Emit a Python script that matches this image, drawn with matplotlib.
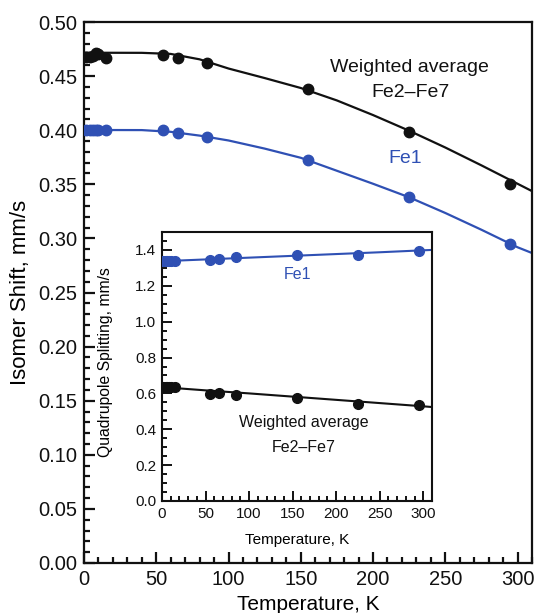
import matplotlib
matplotlib.use("Agg")
import matplotlib.pyplot as plt
from matplotlib.ticker import MultipleLocator

plt.rcParams['font.family'] = ['Liberation Sans', 'DejaVu Sans']

# ---- data: main plot (isomer shift) ----
temps = [1.5, 4.2, 6, 8, 10, 15, 55, 65, 85, 155, 225, 295]
is_avg = [0.468, 0.468, 0.469, 0.471, 0.470, 0.4665, 0.4695, 0.467, 0.4624, 0.4378, 0.3987, 0.350]
is_fe1 = [0.400, 0.400, 0.400, 0.400, 0.400, 0.400, 0.400, 0.3977, 0.394, 0.3725, 0.338, 0.2949]

fit_T = [0, 40, 60, 80, 100, 125, 150, 175, 200, 225, 250, 275, 300, 310]
fit_is_avg = [0.4716, 0.4715, 0.4705, 0.4655, 0.4570, 0.4482, 0.4390, 0.4275, 0.4140, 0.3995,
              0.3840, 0.3675, 0.3505, 0.3437]
fit_is_fe1 = [0.4002, 0.4001, 0.3985, 0.3950, 0.3905, 0.3830, 0.3745, 0.3625, 0.3505, 0.3380,
              0.3235, 0.3080, 0.2918, 0.2865]

# ---- data: inset (quadrupole splitting) ----
qs_fe1 = [1.339, 1.339, 1.339, 1.339, 1.339, 1.339, 1.344, 1.350, 1.363, 1.372, 1.372, 1.392]
qs_avg = [0.633, 0.633, 0.633, 0.633, 0.633, 0.633, 0.596, 0.605, 0.590, 0.577, 0.539, 0.534]
fit_qs_T = [0, 50, 100, 150, 200, 250, 300, 310]
fit_qs_fe1 = [1.337, 1.347, 1.357, 1.367, 1.377, 1.387, 1.398, 1.400]
fit_qs_avg = [0.635, 0.617, 0.600, 0.582, 0.564, 0.546, 0.528, 0.524]

main_yticks = [0.00, 0.05, 0.10, 0.15, 0.20, 0.25, 0.30, 0.35, 0.40, 0.45, 0.50]
main_xticks = [0, 50, 100, 150, 200, 250, 300]
inset_yticks = [0.0, 0.2, 0.4, 0.6, 0.8, 1.0, 1.2, 1.4]

BLUE = '#2f50b4'
BLACK = '#111111'

W, H = 535, 613
fig = plt.figure(figsize=(W / 100, H / 100), dpi=100)
fig.patch.set_facecolor('white')

def px_axes(left, right, top, bottom):
    return [left / W, (H - bottom) / H, (right - left) / W, (bottom - top) / H]

ax = fig.add_axes(px_axes(84, 532, 22, 563))
ax.plot(fit_T, fit_is_avg, color=BLACK, lw=1.6, zorder=2)
ax.plot(fit_T, fit_is_fe1, color=BLUE, lw=1.6, zorder=2)
ax.plot(temps, is_avg, 'o', color=BLACK, ms=7.5, zorder=3)
ax.plot(temps, is_fe1, 'o', color=BLUE, ms=7.5, zorder=3)
ax.set_xlim(0, 310)
ax.set_ylim(0, 0.50)
ax.set_xticks(main_xticks)
ax.set_yticks(main_yticks)
ax.set_yticklabels([f"{v:.2f}" for v in main_yticks])
ax.xaxis.set_minor_locator(MultipleLocator(10))
ax.yaxis.set_minor_locator(MultipleLocator(0.01))
ax.tick_params(which='both', direction='in', top=False, right=False, width=1.6, colors=BLACK)
ax.tick_params(which='major', length=8, labelsize=14.5, pad=5)
ax.tick_params(which='minor', length=4.5)
for s in ax.spines.values():
    s.set_linewidth(1.6)
    s.set_color(BLACK)
ax.set_xlabel('Temperature, K', fontsize=15)
ax.xaxis.set_label_coords(0.5, -0.060)
ax.set_ylabel('Isomer Shift, mm/s', fontsize=16)
ax.yaxis.set_label_coords(-0.118, 0.50)
ax.text(225, 0.4575, 'Weighted average', fontsize=14, ha='center', va='center', color=BLACK)
ax.text(226, 0.4344, 'Fe2\u2013Fe7', fontsize=14, ha='center', va='center', color=BLACK)
ax.text(222, 0.3734, 'Fe1', fontsize=14, ha='center', va='center', color=BLUE)

# ---- inset ----
ai = fig.add_axes(px_axes(162, 432, 232, 501))
ai.set_facecolor('white')
ai.plot(fit_qs_T, fit_qs_fe1, color=BLUE, lw=1.5, zorder=2)
ai.plot(fit_qs_T, fit_qs_avg, color=BLACK, lw=1.5, zorder=2)
ai.plot(temps, qs_fe1, 'o', color=BLUE, ms=7, zorder=3)
ai.plot(temps, qs_avg, 'o', color=BLACK, ms=7, zorder=3)
ai.set_xlim(0, 310)
ai.set_ylim(0, 1.5)
ai.set_xticks(main_xticks)
ai.set_yticks(inset_yticks)
ai.set_yticklabels([f"{v:.1f}" for v in inset_yticks])
ai.xaxis.set_minor_locator(MultipleLocator(10))
ai.yaxis.set_minor_locator(MultipleLocator(0.05))
ai.tick_params(which='both', direction='in', top=False, right=False, width=1.4, colors=BLACK)
ai.tick_params(which='major', length=7, labelsize=11, pad=4)
ai.tick_params(which='minor', length=3.5)
for s in ai.spines.values():
    s.set_linewidth(1.5)
    s.set_color(BLACK)
ai.set_xlabel('Temperature, K', fontsize=11)
ai.xaxis.set_label_coords(0.5, -0.119)
ai.set_ylabel('Quadrupole Splitting, mm/s', fontsize=11.3)
ai.yaxis.set_label_coords(-0.181, 0.515)
ai.text(155.7, 1.264, 'Fe1', fontsize=11.5, ha='center', va='center', color=BLUE)
ai.text(162.6, 0.438, 'Weighted average', fontsize=11.5, ha='center', va='center', color=BLACK)
ai.text(162.6, 0.298, 'Fe2\u2013Fe7', fontsize=11.5, ha='center', va='center', color=BLACK)

fig.savefig('out.png', dpi=100, facecolor='white')
